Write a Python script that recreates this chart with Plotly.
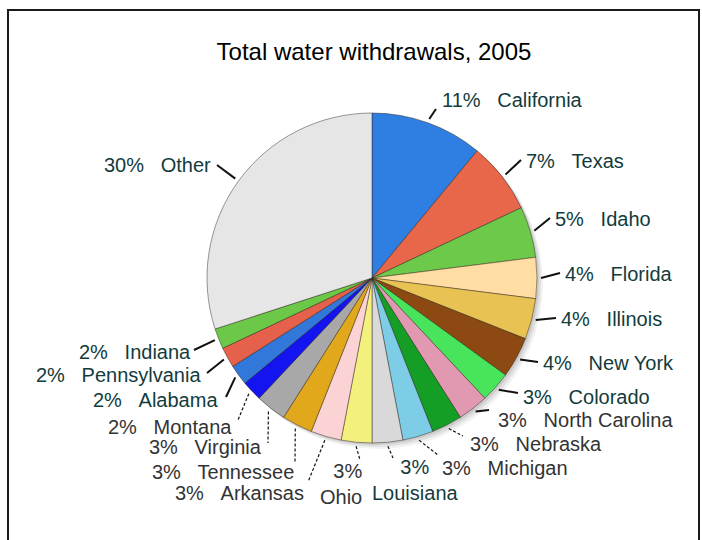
import math
import plotly.graph_objects as go

# ---------------- data ----------------
states = ["California", "Texas", "Idaho", "Florida", "Illinois", "New York",
          "Colorado", "North Carolina", "Nebraska", "Michigan", "Louisiana",
          "Ohio", "Arkansas", "Tennessee", "Virginia", "Montana", "Alabama",
          "Pennsylvania", "Indiana", "Other"]
shares = [11, 7, 5, 4, 4, 4, 3, 3, 3, 3, 3, 3, 3, 3, 3, 2, 2, 2, 2, 30]
slice_colors = ["#2f7fe2", "#e8674b", "#6cc94a", "#ffdda3", "#e8c354", "#8c4a12",
                "#48e45c", "#e099b0", "#159e26", "#7ecde6", "#d9d9d9", "#f4f07e",
                "#fcd3d5", "#e2a81c", "#a8a8a8", "#1414f0", "#3277da", "#e5614b",
                "#6cc848", "#e6e6e6"]
title_text = "Total water withdrawals, 2005"

# ---------------- layout helpers ----------------
W, H = 702, 540
CX, CY, R = 372, 278, 165          # pie centre / radius in pixels

def px(x):
    return x / W

def py(y):
    return 1 - y / H

# label placement: line end (px), text anchor (px), xanchor, style
label_place = {
    "California":     (436, 109, 440, 100, "left", "teal"),
    "Texas":          (521, 160, 524, 161, "left", "teal"),
    "Idaho":          (550, 218, 553, 219, "left", "teal"),
    "Florida":        (560, 273, 563, 274, "left", "teal"),
    "Illinois":       (556, 318, 559, 319, "left", "teal"),
    "New York":       (538, 362, 541, 363, "left", "teal"),
    "Colorado":       (518, 393, 521, 397, "left", "teal"),
    "North Carolina": (489, 410, 496, 420, "left", "gray"),
    "Nebraska":       (463, 436, 468, 444, "left", "grayd"),
    "Michigan":       (438, 455, 440, 468, "left", "grayd"),
    "Louisiana":      (393, 458, 415, 480, "center", "teald"),
    "Ohio":           (360, 460, 364, 484, "right", "grayd"),
    "Arkansas":       (308, 482, 306, 493, "right", "grayd"),
    "Tennessee":      (295, 462, 296, 472, "right", "grayd"),
    "Virginia":       (268, 443, 264, 447, "right", "grayd"),
    "Montana":        (238, 420, 234, 427, "right", "grayd"),
    "Alabama":        (226, 397, 220, 400, "right", "teal"),
    "Pennsylvania":   (207, 373, 203, 375, "right", "teal"),
    "Indiana":        (194, 350, 193, 352, "right", "teal"),
    "Other":          (217, 165, 213, 165, "right", "teal"),
}

FONT = "Liberation Sans, Arial, sans-serif"
TEAL = "#123b3b"
GRAY = "#333333"
SP = "\u00a0\u00a0\u00a0"

fig = go.Figure()

# soft drop shadow behind the pie
for off, op in [(6, 0.05), (4, 0.07), (2, 0.09)]:
    fig.add_trace(go.Pie(
        values=[1], labels=["shadow"], sort=False, textinfo="none",
        marker=dict(colors=[f"rgba(0,0,0,{op})"], line=dict(width=0)),
        domain=dict(x=[px(CX - R + off), px(CX + R + off)],
                    y=[py(CY + R + off), py(CY - R + off)]),
        hoverinfo="skip", showlegend=False))

fig.add_trace(go.Pie(
    labels=states, values=shares, sort=False, direction="clockwise",
    rotation=0, textinfo="none", showlegend=False,
    marker=dict(colors=slice_colors, line=dict(color="rgba(40,30,20,0.45)", width=1)),
    domain=dict(x=[px(CX - R), px(CX + R)], y=[py(CY + R), py(CY - R)]),
))

total = sum(shares)
cum = 0
shapes = []
annotations = []
for name, v in zip(states, shares):
    mid = (cum + v / 2) / total
    cum += v
    th = 2 * math.pi * mid
    sx = CX + (R + 4) * math.sin(th)
    sy = CY - (R + 4) * math.cos(th)
    ex, ey, tx, ty, anc, style = label_place[name]
    dashed = style.endswith("d")
    shapes.append(dict(type="line", xref="paper", yref="paper",
                       x0=px(sx), y0=py(sy), x1=px(ex), y1=py(ey),
                       line=dict(color="#111111", width=1.2 if dashed else 2,
                                 dash="3px,2px" if dashed else "solid")))
    if name in ("Louisiana", "Ohio"):
        txt = f"{v}%<br>{name}"
    else:
        txt = f"{v}%{SP}{name}"
    annotations.append(dict(
        xref="paper", yref="paper", x=px(tx), y=py(ty), text=txt,
        showarrow=False, xanchor=anc, yanchor="middle", align=anc,
        font=dict(family=FONT, size=20,
                  color=GRAY if style.startswith("gray") else TEAL)))

# outer frame of the picture
shapes.append(dict(type="rect", xref="paper", yref="paper",
                   x0=px(8), x1=px(699), y0=-0.02, y1=py(10),
                   line=dict(color="#1a1a1a", width=2)))

fig.update_layout(
    width=W, height=H,
    margin=dict(l=0, r=0, t=0, b=0),
    paper_bgcolor="white", plot_bgcolor="white",
    title=dict(text=title_text, x=px(374), y=py(52), xanchor="center",
               yanchor="middle", font=dict(family=FONT, size=24, color="#000000")),
    shapes=shapes, annotations=annotations, showlegend=False,
)

fig.write_html("out.html")
